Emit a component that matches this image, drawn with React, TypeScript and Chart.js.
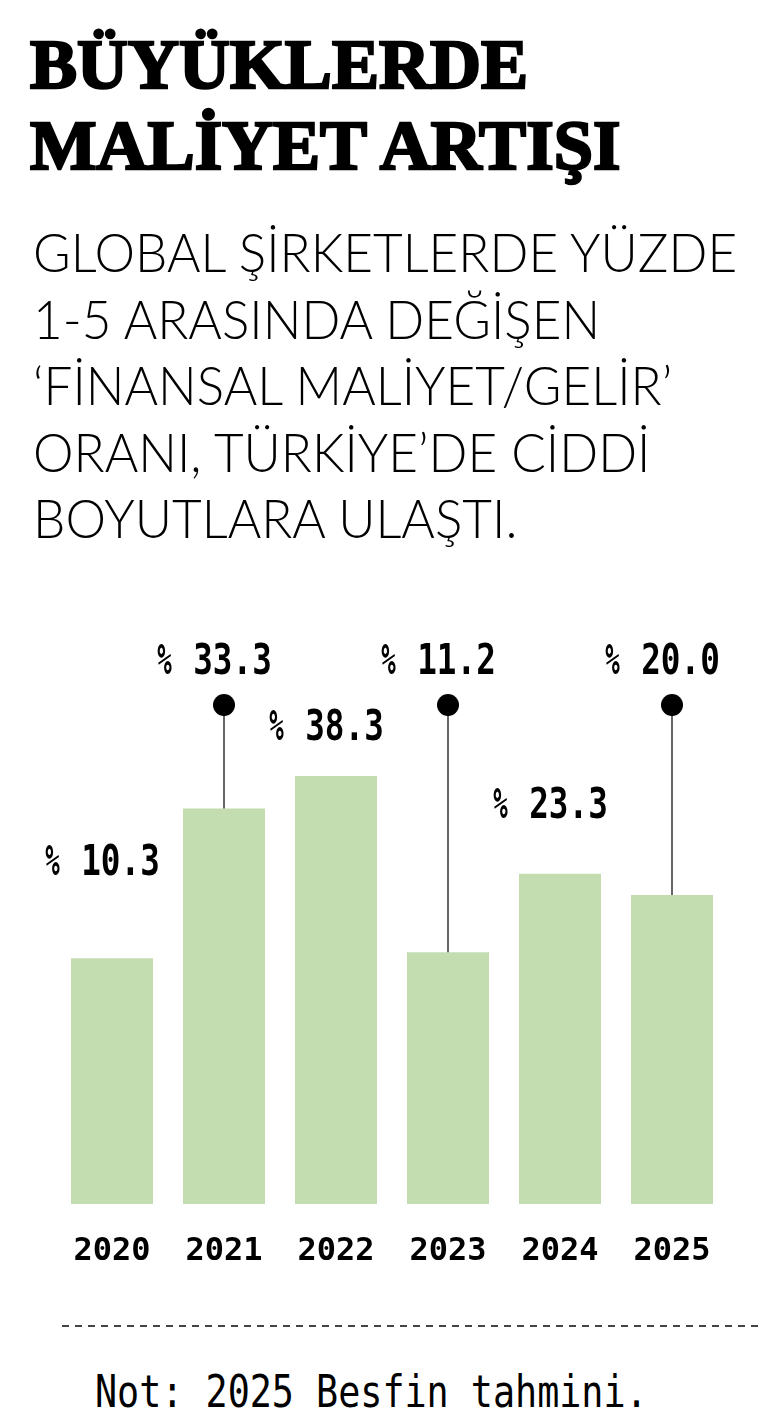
import React, { useEffect, useLayoutEffect, useRef } from "react";
import { Chart, registerables } from "chart.js";

Chart.register(...registerables);

// ---- data ----
const years: string[] = ["2020", "2021", "2022", "2023", "2024", "2025"];
const costRatios: number[] = [10.3, 33.3, 38.3, 11.2, 23.3, 20.0];
const pinnedLabels: boolean[] = [false, true, false, true, false, true];
const titleLines: string[] = ["BÜYÜKLERDE", "MALİYET ARTIŞI"];
const subtitleLines: string[] = [
  "GLOBAL ŞİRKETLERDE YÜZDE",
  "1-5 ARASINDA DEĞİŞEN",
  "‘FİNANSAL MALİYET/GELİR’",
  "ORANI, TÜRKİYE’DE CİDDİ",
  "BOYUTLARA ULAŞTI.",
];
const noteText = "Not: 2025 Besfin tahmini.";

const Y_MIN = -27.5;
const Y_MAX = 62.3;

function drawValueLabel(ctx: CanvasRenderingContext2D, cx: number, baseline: number, value: number) {
  const digits = value.toFixed(1);
  ctx.save();
  ctx.fillStyle = "#000";
  ctx.textBaseline = "alphabetic";
  ctx.textAlign = "left";
  ctx.font = 'bold 43px "DejaVu Sans Mono"';
  const dScale = 0.76;
  const dw = ctx.measureText(digits).width * dScale;
  const pw = 17;
  const gap = 16;
  const total = pw + gap + dw;
  const left = cx - total / 2;
  ctx.save();
  ctx.translate(left - 3, baseline);
  ctx.scale(0.56, 1);
  ctx.font = 'bold 43px "DejaVu Sans Mono"';
  ctx.fillText("%", 0, 0);
  ctx.restore();
  ctx.save();
  ctx.translate(left + pw + gap, baseline);
  ctx.scale(dScale, 1);
  ctx.font = 'bold 43px "DejaVu Sans Mono"';
  ctx.fillText(digits, 0, 0);
  ctx.restore();
  ctx.restore();
}

const pinLabelPlugin = {
  id: "pinLabels",
  afterDatasetsDraw(chart: any, _args: any, opts: any) {
    const ctx: CanvasRenderingContext2D = chart.ctx;
    const meta = chart.getDatasetMeta(0);
    const area = chart.chartArea;
    const values = chart.data.datasets[0].data as number[];
    meta.data.forEach((bar: any, i: number) => {
      const x = bar.x;
      const top = bar.y;
      let baseline: number;
      if (opts.pinned[i]) {
        const dotY = area.top + opts.pinOffset;
        ctx.save();
        ctx.strokeStyle = "#333";
        ctx.lineWidth = 1.5;
        ctx.beginPath();
        ctx.moveTo(x, top);
        ctx.lineTo(x, dotY);
        ctx.stroke();
        ctx.fillStyle = "#000";
        ctx.beginPath();
        ctx.arc(x, dotY, 11, 0, Math.PI * 2);
        ctx.fill();
        ctx.restore();
        baseline = dotY - 31;
      } else {
        baseline = top - opts.lift[i];
      }
      drawValueLabel(ctx, x + opts.dx, baseline, values[i]);
    });
  },
};

export default function App() {
  const canvasRef = useRef<HTMLCanvasElement>(null);
  const titleRefs = useRef<(HTMLSpanElement | null)[]>([]);
  const subRefs = useRef<(HTMLSpanElement | null)[]>([]);

  useLayoutEffect(() => {
    const fit = () => {
      const group = (els: (HTMLSpanElement | null)[], target: number) => {
        const first = els[0];
        if (!first) return;
        const w = first.offsetWidth;
        if (!w) return;
        const s = target / w;
        els.forEach((el) => {
          if (el) el.style.transform = `scaleX(${s})`;
        });
      };
      group(titleRefs.current, 498);
      group(subRefs.current, 704);
    };
    fit();
    if ((document as any).fonts && (document as any).fonts.ready) {
      (document as any).fonts.ready.then(fit);
    }
  }, []);

  useEffect(() => {
    if (!canvasRef.current) return;
    const chart = new Chart(canvasRef.current, {
      type: "bar",
      data: {
        labels: years,
        datasets: [
          {
            data: costRatios,
            backgroundColor: "#c4ddb0",
            borderWidth: 0,
            base: Y_MIN,
            barPercentage: 0.732,
            categoryPercentage: 1,
          } as any,
        ],
      },
      options: {
        animation: false,
        responsive: true,
        maintainAspectRatio: false,
        layout: { padding: { left: 56, right: 40, top: 20, bottom: 0 } },
        plugins: {
          legend: { display: false },
          tooltip: { enabled: false },
          title: { display: false },
          pinLabels: {
            pinned: pinnedLabels,
            lift: [83, 0, 36, 0, 56, 0],
            pinOffset: 85,
            dx: -8,
          },
        } as any,
        scales: {
          x: {
            grid: { display: false, drawTicks: false },
            border: { display: false },
            ticks: {
              color: "#000",
              font: { family: "DejaVu Sans Mono", size: 32, weight: "bold" },
              padding: 28,
              maxRotation: 0,
              autoSkip: false,
            },
            afterFit: (s: any) => {
              s.height = 96;
            },
          },
          y: { display: false, min: Y_MIN, max: Y_MAX },
        },
      },
      plugins: [pinLabelPlugin as any],
    });
    return () => chart.destroy();
  }, []);

  return (
    <div
      style={{
        position: "absolute",
        left: 0,
        top: 0,
        width: 768,
        height: 1427,
        overflow: "hidden",
        background: "#fff",
        color: "#000",
      }}
    >
      <div
        style={{
          position: "absolute",
          left: 30,
          top: 24,
          font: 'bold 70px "Liberation Serif"',
          lineHeight: "81px",
          WebkitTextStroke: "2.5px #000",
          whiteSpace: "nowrap",
        }}
      >
        {titleLines.map((t, i) => (
          <div key={i}>
            <span
              ref={(el) => {
                titleRefs.current[i] = el;
              }}
              style={{ display: "inline-block", transformOrigin: "left center" }}
            >
              {t}
            </span>
          </div>
        ))}
      </div>
      <div
        style={{
          position: "absolute",
          left: 33,
          top: 219,
          fontFamily: "Lato",
          fontWeight: 300,
          fontSize: 53,
          lineHeight: "66.5px",
          whiteSpace: "nowrap",
        }}
      >
        {subtitleLines.map((t, i) => (
          <div key={i}>
            <span
              ref={(el) => {
                subRefs.current[i] = el;
              }}
              style={{ display: "inline-block", transformOrigin: "left center" }}
            >
              {t}
            </span>
          </div>
        ))}
      </div>
      <div style={{ position: "absolute", left: 0, top: 600, width: 768, height: 700 }}>
        <canvas ref={canvasRef} />
      </div>
      <div
        style={{
          position: "absolute",
          left: 62,
          top: 1325,
          width: 698,
          height: 2,
          background: "repeating-linear-gradient(to right, #444 0px, #444 7px, transparent 7px, transparent 13px)",
        }}
      />
      <div
        style={{
          position: "absolute",
          left: 95,
          top: 1369,
          fontFamily: '"DejaVu Sans Mono"',
          fontSize: 45,
          lineHeight: "45px",
          whiteSpace: "nowrap",
          transform: "scaleX(0.816)",
          transformOrigin: "left center",
        }}
      >
        {noteText}
      </div>
    </div>
  );
}
